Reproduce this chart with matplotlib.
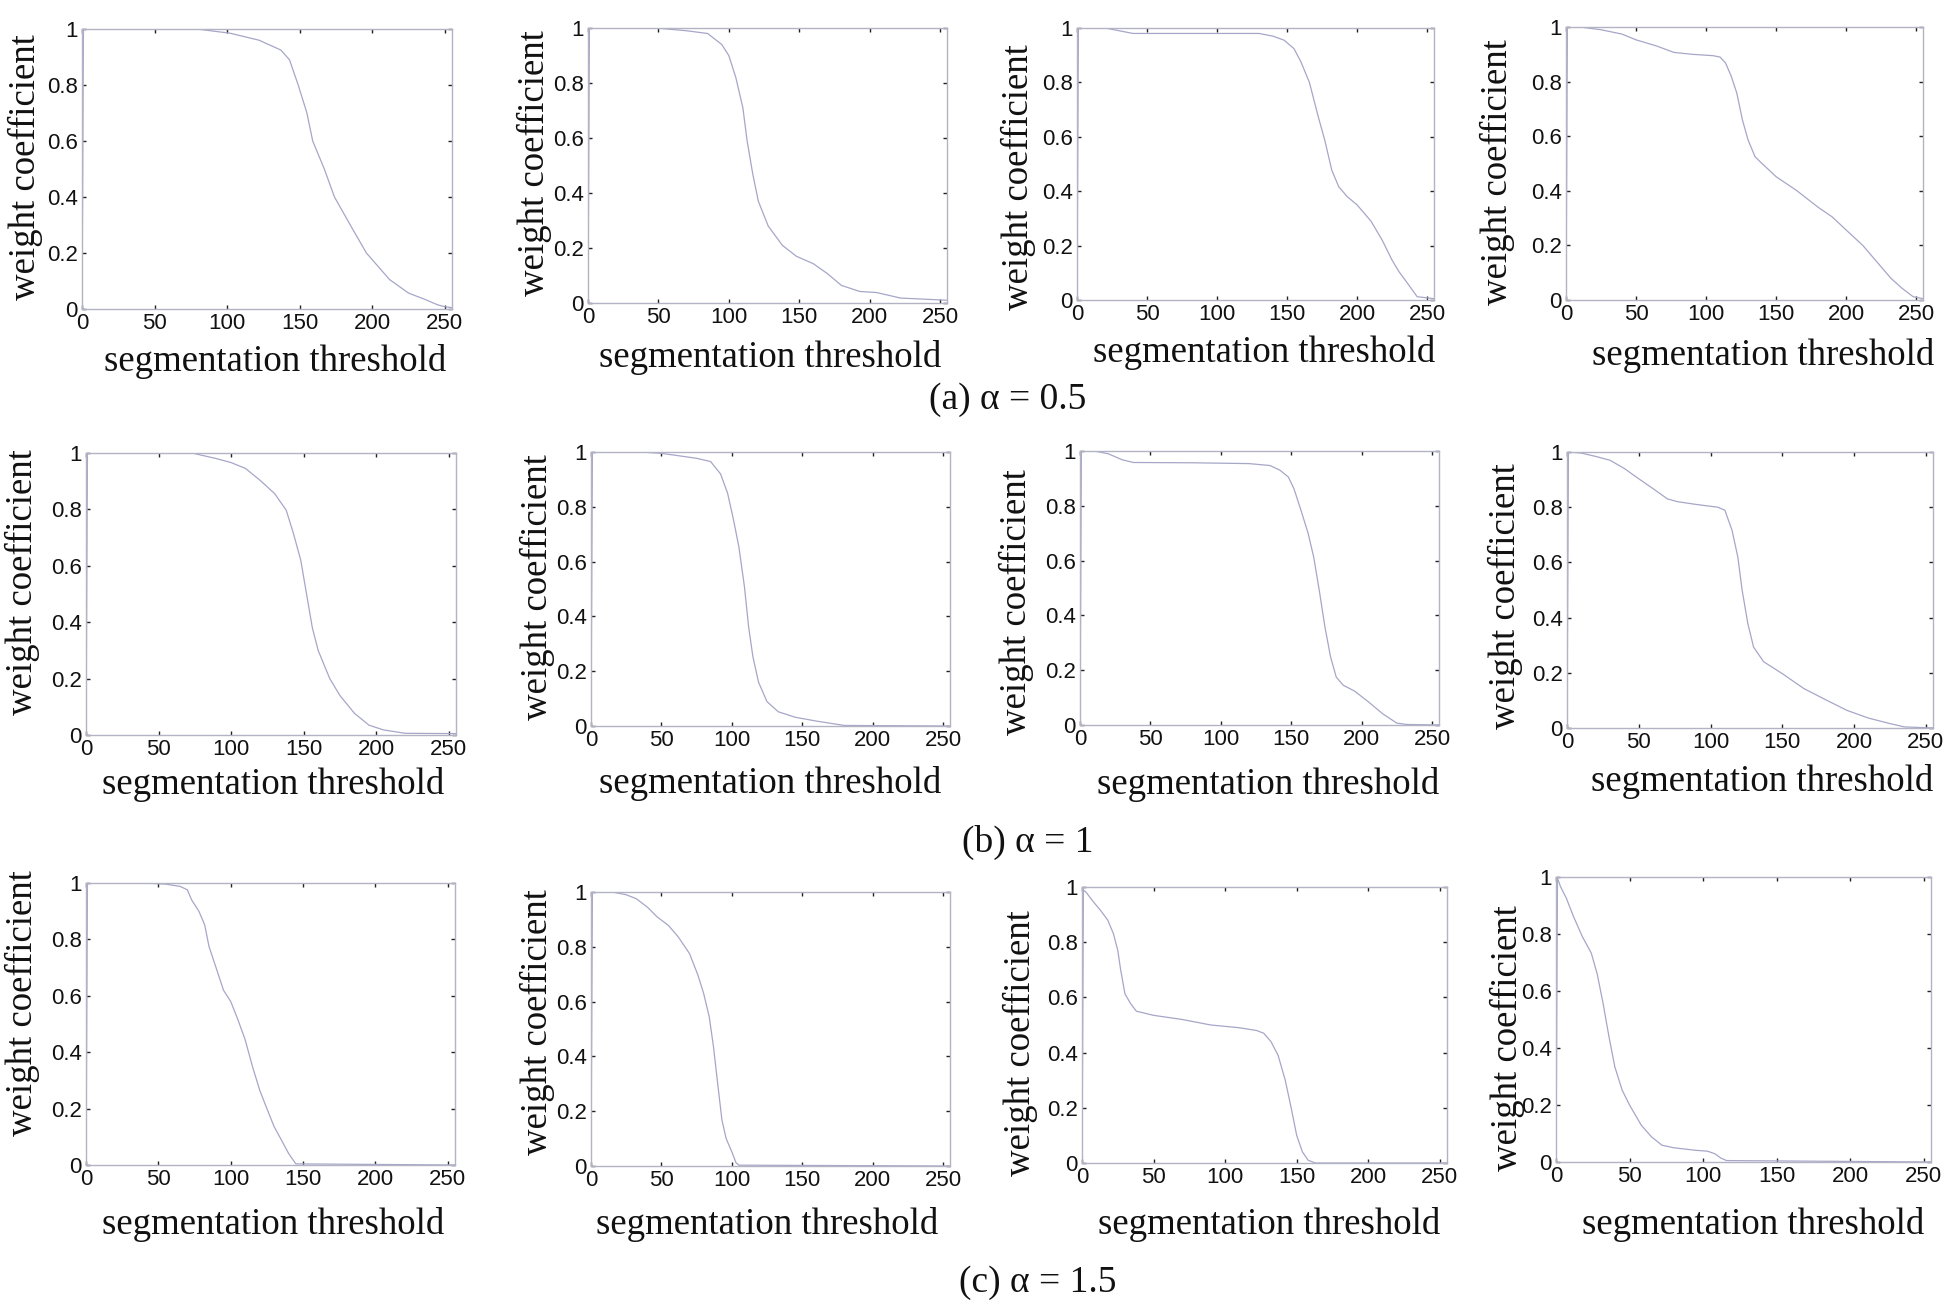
import matplotlib
matplotlib.use("Agg")
import matplotlib.pyplot as plt

# ---------------- data ----------------
# row (a) alpha = 0.5
thr_a1 = [0, 1, 79, 102, 122, 137, 143, 149, 155, 159, 167, 174, 186, 196, 212, 225, 236, 245, 250, 255]
w_a1 = [0, 1.0, 1.0, 0.985, 0.96, 0.925, 0.89, 0.80, 0.70, 0.60, 0.50, 0.40, 0.29, 0.20, 0.105, 0.057, 0.035, 0.015, 0.008, 0.005]

thr_a2 = [0, 1, 48, 70, 85, 95, 100, 105, 110, 113, 117, 121, 128, 138, 148, 160, 170, 180, 193, 205, 222, 255]
w_a2 = [0, 1.0, 1.0, 0.99, 0.98, 0.94, 0.90, 0.82, 0.71, 0.59, 0.47, 0.37, 0.28, 0.21, 0.17, 0.143, 0.107, 0.064, 0.042, 0.038, 0.018, 0.01]

thr_a3 = [0, 1, 20, 35, 40, 130, 140, 148, 155, 160, 166, 172, 177, 182, 187, 193, 200, 210, 218, 225, 230, 237, 243, 255]
w_a3 = [0, 1.0, 1.0, 0.985, 0.98, 0.98, 0.97, 0.955, 0.924, 0.875, 0.80, 0.68, 0.587, 0.477, 0.416, 0.38, 0.35, 0.29, 0.22, 0.147, 0.104, 0.055, 0.012, 0.005]

thr_a4 = [0, 1, 10, 25, 40, 50, 65, 77, 90, 105, 110, 114, 118, 122, 126, 130, 135, 140, 150, 165, 180, 190, 200, 212, 222, 232, 240, 248, 255]
w_a4 = [0, 1.0, 1.0, 0.99, 0.974, 0.953, 0.93, 0.907, 0.90, 0.895, 0.89, 0.868, 0.82, 0.758, 0.66, 0.587, 0.525, 0.50, 0.452, 0.40, 0.34, 0.305, 0.257, 0.20, 0.14, 0.08, 0.043, 0.012, 0.005]

# row (b) alpha = 1
thr_b1 = [0, 1, 73, 90, 100, 110, 120, 130, 138, 143, 148, 152, 156, 160, 168, 175, 185, 195, 205, 220, 255]
w_b1 = [0, 1.0, 1.0, 0.98, 0.966, 0.945, 0.903, 0.856, 0.797, 0.714, 0.62, 0.50, 0.38, 0.30, 0.20, 0.14, 0.077, 0.035, 0.018, 0.006, 0.005]

thr_b2 = [0, 1, 35, 50, 60, 75, 85, 92, 97, 101, 105, 109, 112, 115, 119, 125, 133, 145, 160, 180, 255]
w_b2 = [0, 1.0, 1.0, 0.995, 0.988, 0.977, 0.965, 0.92, 0.85, 0.758, 0.655, 0.508, 0.36, 0.253, 0.16, 0.089, 0.052, 0.032, 0.018, 0.002, 0.0]

thr_b3 = [0, 1, 10, 20, 30, 38, 80, 120, 135, 142, 148, 152, 157, 162, 166, 170, 174, 178, 182, 187, 195, 205, 215, 225, 232, 255]
w_b3 = [0, 1.0, 1.0, 0.99, 0.968, 0.958, 0.957, 0.954, 0.947, 0.93, 0.905, 0.862, 0.783, 0.70, 0.613, 0.49, 0.357, 0.248, 0.175, 0.145, 0.124, 0.084, 0.041, 0.007, 0.002, 0.0]

thr_b4 = [0, 1, 10, 20, 30, 40, 50, 60, 70, 77, 90, 105, 110, 115, 119, 122, 126, 130, 137, 150, 165, 180, 195, 210, 225, 235, 255]
w_b4 = [0, 1.0, 0.996, 0.984, 0.97, 0.94, 0.903, 0.867, 0.83, 0.82, 0.81, 0.80, 0.789, 0.716, 0.62, 0.50, 0.378, 0.293, 0.24, 0.197, 0.143, 0.103, 0.064, 0.036, 0.016, 0.004, 0.0]

# row (c) alpha = 1.5
thr_c1 = [0, 1, 40, 55, 65, 70, 73, 78, 82, 85, 90, 95, 100, 105, 110, 115, 120, 125, 130, 135, 140, 145, 255]
w_c1 = [0, 1.0, 1.0, 0.996, 0.988, 0.976, 0.94, 0.90, 0.852, 0.775, 0.698, 0.62, 0.58, 0.515, 0.444, 0.35, 0.266, 0.20, 0.136, 0.089, 0.041, 0.004, 0.0]

thr_c2 = [0, 1, 15, 25, 32, 40, 47, 55, 62, 70, 76, 80, 84, 87, 90, 93, 96, 100, 103, 105, 255]
w_c2 = [0, 1.0, 1.0, 0.99, 0.976, 0.945, 0.909, 0.878, 0.836, 0.775, 0.696, 0.63, 0.544, 0.435, 0.30, 0.168, 0.10, 0.052, 0.012, 0.003, 0.0]

thr_c3 = [0, 1, 3, 8, 13, 18, 22, 25, 27, 30, 34, 38, 50, 70, 90, 110, 122, 127, 132, 137, 142, 146, 150, 154, 158, 163, 255]
w_c3 = [0, 0.99, 0.98, 0.946, 0.915, 0.88, 0.83, 0.77, 0.70, 0.613, 0.577, 0.55, 0.535, 0.52, 0.50, 0.49, 0.48, 0.47, 0.44, 0.39, 0.30, 0.203, 0.10, 0.04, 0.01, 0.0, 0.0]

thr_c4 = [0, 1, 3, 7, 12, 18, 24, 28, 32, 36, 40, 45, 50, 58, 65, 72, 80, 95, 103, 108, 112, 116, 255]
w_c4 = [0, 0.996, 0.967, 0.926, 0.86, 0.79, 0.733, 0.66, 0.557, 0.44, 0.334, 0.252, 0.20, 0.129, 0.088, 0.059, 0.05, 0.041, 0.038, 0.029, 0.014, 0.005, 0.0]

series = [
    [(thr_a1, w_a1), (thr_a2, w_a2), (thr_a3, w_a3), (thr_a4, w_a4)],
    [(thr_b1, w_b1), (thr_b2, w_b2), (thr_b3, w_b3), (thr_b4, w_b4)],
    [(thr_c1, w_c1), (thr_c2, w_c2), (thr_c3, w_c3), (thr_c4, w_c4)],
]

x_ticks = [0, 50, 100, 150, 200, 250]
x_tick_labels = ["0", "50", "100", "150", "200", "250"]
y_ticks = [0, 0.2, 0.4, 0.6, 0.8, 1.0]
y_tick_labels = ["0", "0.2", "0.4", "0.6", "0.8", "1"]
x_label = "segmentation threshold"
y_label = "weight coefficient"
captions = ["(a) α = 0.5", "(b) α = 1", "(c) α = 1.5"]

# ---------------- layout (pixels) ----------------
W, H = 1950, 1306
axes_px = [  # left, right, top, bottom
    [(82, 452, 29, 309), (588, 947, 28, 303), (1077, 1434, 28, 300), (1566, 1923, 27, 300)],
    [(86, 456, 453, 735), (591, 950, 452, 726), (1080, 1439, 451, 725), (1567, 1933, 452, 728)],
    [(86, 455, 883, 1165), (591, 950, 892, 1166), (1082, 1447, 887, 1163), (1556, 1931, 877, 1162)],
]
xlabel_px = [
    [(275, 362), (770, 358), (1264, 353), (1763, 355)],
    [(273, 785), (770, 783), (1268, 785), (1762, 781)],
    [(273, 1225), (767, 1225), (1269, 1225), (1753, 1225)],
]
ylabel_px = [
    [(25, 167), (534, 163), (1018, 177), (1497, 172)],
    [(22, 582), (537, 587), (1016, 602), (1505, 596)],
    [(22, 1003), (537, 1022), (1020, 1043), (1507, 1038)],
]
caption_px = [(1008, 400), (1028, 842), (1038, 1283)]

serif = ["Liberation Serif", "DejaVu Serif"]
sans = ["Liberation Sans", "DejaVu Sans"]
line_color = "#a6a6c8"
spine_color = "#b3b3c6"

fig = plt.figure(figsize=(W / 100, H / 100), dpi=100)
fig.patch.set_facecolor("white")

for r in range(3):
    for c in range(4):
        l, rt, t, b = axes_px[r][c]
        ax = fig.add_axes([l / W, 1 - b / H, (rt - l) / W, (b - t) / H])
        xs, ys = series[r][c]
        ax.plot(xs, ys, color=line_color, lw=0.9)
        ax.set_xlim(0, 255)
        ax.set_ylim(0, 1)
        ax.set_xticks(x_ticks)
        ax.set_xticklabels(x_tick_labels)
        ax.set_yticks(y_ticks)
        ax.set_yticklabels(y_tick_labels)
        ax.tick_params(direction="in", length=3, width=1, color="#222222",
                       top=True, right=True, labelsize=16, pad=3)
        for lab in ax.get_xticklabels() + ax.get_yticklabels():
            lab.set_family(sans)
            lab.set_color("#111111")
        for sp in ax.spines.values():
            sp.set_color(spine_color)
            sp.set_linewidth(1.0)
        xx, xy = xlabel_px[r][c]
        fig.text(xx / W, 1 - xy / H, x_label, ha="center", va="center",
                 fontsize=26.5, family=serif, color="#111111")
        yx, yy = ylabel_px[r][c]
        fig.text(yx / W, 1 - yy / H, y_label, ha="center", va="center",
                 rotation=90, fontsize=26.5, family=serif, color="#111111")

for (cx, cy), cap in zip(caption_px, captions):
    fig.text(cx / W, 1 - cy / H, cap, ha="center", va="center",
             fontsize=27, family=serif, color="#111111")

fig.savefig("out.png", dpi=100, facecolor="white")
